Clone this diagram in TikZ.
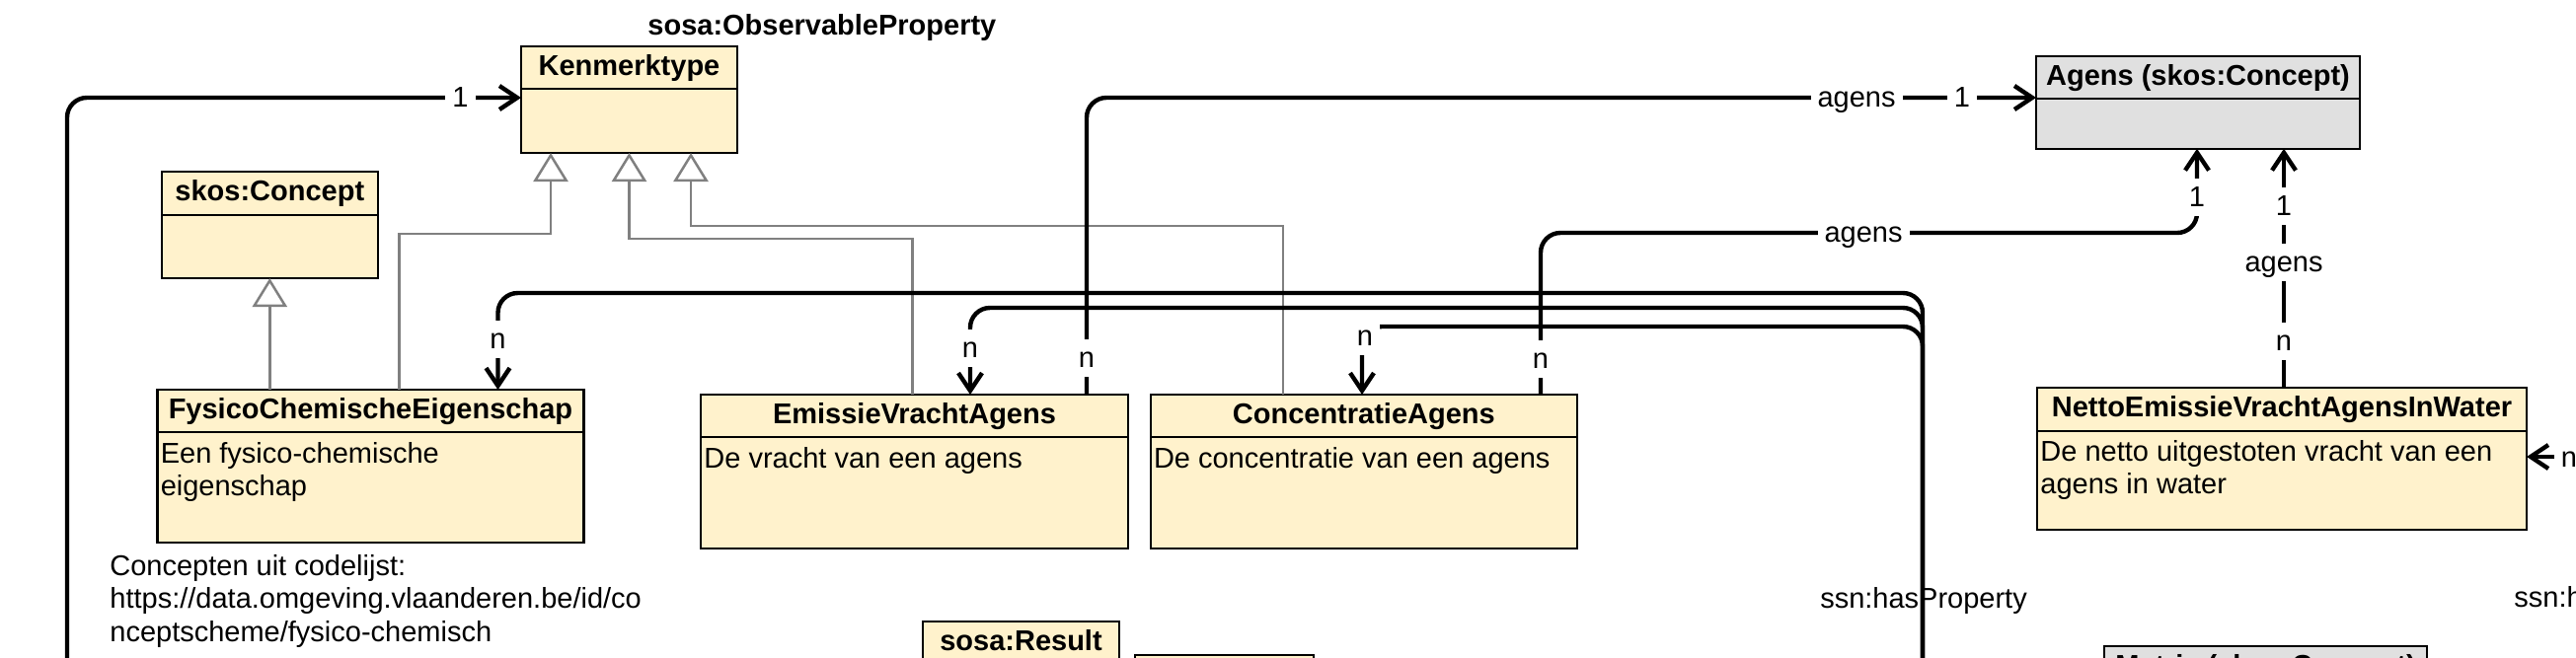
\documentclass[tikz,border=0pt]{standalone}
\usepackage{fontspec}
\setmainfont{Liberation Sans}
\usetikzlibrary{arrows.meta,fit,calc}
\definecolor{umlyellow}{HTML}{FFF2CC}
\definecolor{umlgray}{HTML}{E0E0E0}
\definecolor{genline}{HTML}{808080}

\newcommand{\mkumlbox}[8]{%
 \coordinate (#1-nw) at (#2,#3);
 \coordinate (#1-se) at (#4,#6);
 \node[classfrm, fill=#8, fit=(#1-nw)(#1-se)] (#1) {};
 \draw[frmline] (#2,#5) -- (#4,#5);
 \node[titletxt] (#1-title) at ($(#1.north)+(0,29.5)$) {#7};
}

\begin{document}
\begin{tikzpicture}[x=0.5pt,y=-0.5pt,
  classfrm/.style={draw=black, line width=1.1pt, inner sep=0pt, outer sep=0pt},
  frmline/.style={draw=black, line width=1.1pt},
  titletxt/.style={font=\bfseries\fontsize{14.5}{16.5}\selectfont, anchor=base, inner sep=0pt},
  bodytxt/.style={font=\fontsize{14.5}{16.5}\selectfont, anchor=base west, inner sep=0pt},
  plaintxt/.style={font=\fontsize{14.5}{16.5}\selectfont, inner sep=0pt},
  lbl/.style={font=\fontsize{14.5}{16.5}\selectfont, anchor=base, fill=white, inner xsep=3.5pt, inner ysep=1.5pt, text height=12.3pt, text depth=3.6pt},
  gen/.style={draw=genline, line width=1.25pt, -{Triangle[fill=white, length=14.5pt, width=17.5pt]}},
  assoc/.style={draw=black, line width=2.2pt, rounded corners=10pt, -{Straight Barb[length=9pt, width=12pt]}},
  plainassoc/.style={draw=black, line width=2.2pt, rounded corners=10pt},
]
\useasboundingbox (0,0) rectangle (2610,666);
\fill[white] (0,0) rectangle (2610,666);
\clip (0,0) rectangle (2610,666);

% ---------- classes ----------
\mkumlbox{kt}{528}{47}{747}{90}{155}{Kenmerktype}{umlyellow}
\mkumlbox{skos}{164}{174}{382.6}{218}{282}{skos:Concept}{umlyellow}
\mkumlbox{fce}{159.4}{395}{591.5}{438}{550}{FysicoChemischeEigenschap}{umlyellow}
\mkumlbox{eva}{710}{400}{1143}{443}{556}{EmissieVrachtAgens}{umlyellow}
\mkumlbox{ca}{1165.6}{400}{1598}{443}{556}{ConcentratieAgens}{umlyellow}
\mkumlbox{agens}{2063}{56.7}{2391}{100}{150.7}{Agens (skos:Concept)}{umlgray}
\mkumlbox{neva}{2064}{393}{2560}{437}{537}{NettoEmissieVrachtAgensInWater}{umlyellow}
\mkumlbox{res}{935}{630}{1134}{673}{760}{sosa:Result}{umlyellow}
\mkumlbox{unk}{1150}{664}{1331}{707}{760}{}{umlyellow}
\mkumlbox{mat}{2132}{655}{2459}{698}{760}{Matrix (skos:Concept)}{umlgray}

\node[bodytxt] (fce-b1) at ($(fce.north west)+(3,74)$) {Een fysico-chemische};
\node[bodytxt] (fce-b2) at ($(fce.north west)+(3,107)$) {eigenschap};
\node[bodytxt] (eva-b1) at ($(eva.north west)+(3,74)$) {De vracht van een agens};
\node[bodytxt] (ca-b1) at ($(ca.north west)+(3,74)$) {De concentratie van een agens};
\node[bodytxt] (neva-b1) at ($(neva.north west)+(3,74)$) {De netto uitgestoten vracht van een};
\node[bodytxt] (neva-b2) at ($(neva.north west)+(3,107)$) {agens in water};

% ---------- free texts ----------
\node[titletxt, anchor=base west] (obsprop) at (656,35) {sosa:ObservableProperty};
\node[bodytxt] (note1) at (111,583) {Concepten uit codelijst:};
\node[bodytxt] (note2) at (111,616.5) {https://data.omgeving.vlaanderen.be/id/co};
\node[bodytxt] (note3) at (111,650) {nceptscheme/fysico-chemisch};
\node[plaintxt, anchor=base] (hasprop1) at (1949,616) {ssn:hasProperty};
\node[plaintxt, anchor=base west] (hasprop2) at (2547,615) {ssn:hasProperty};

% ---------- coordinates ----------
\coordinate (g2a) at (404.5,237); \coordinate (g2b) at (558,237);
\coordinate (g3a) at (924.5,242); \coordinate (g3b) at (637.5,242);
\coordinate (g4a) at (1300,229);  \coordinate (g4b) at (700,229);
\coordinate (ktsrc) at (68,760);
\coordinate (bund) at (1948,760);
\coordinate (h1) at (504.5,297);
\coordinate (h2) at (983,312);
\coordinate (h3) at (1380,331);
\coordinate (v1) at (1101,99);
\coordinate (v2) at (1561,236); \coordinate (v3) at (2226,236);
\coordinate (v4) at (2314,0);
\coordinate (rsrc) at (2720,463);

% ---------- generalisations ----------
\draw[gen] (fce.north -| skos.south) -- (skos.south);
\draw[gen] (fce.north -| g2a) -- (g2a) -- (g2b) -- (kt.south -| g2b);
\draw[gen] (eva.north -| g3a) -- (g3a) -- (g3b) -- (kt.south -| g3b);
\draw[gen] (ca.north -| g4a) -- (g4a) -- (g4b) -- (kt.south -| g4b);

% ---------- associations ----------
\draw[assoc] (ktsrc) |- (kt.west |- v1);
\draw[assoc] (bund) |- (h1) -- (fce.north -| h1);
\draw[assoc] (bund) |- (h2) -- (eva.north -| h2);
\draw[assoc] (bund) |- (h3) -- (ca.north -| h3);
\draw[assoc] (eva.north -| v1) |- (agens.west |- v1);
\draw[assoc] (ca.north -| v2) -- (v2) -- (v3) -- (agens.south -| v3);
\draw[assoc] (neva.north -| v4) -- (agens.south -| v4);
\draw[assoc] (rsrc) -- (neva.east |- rsrc);

% ---------- labels ----------
\node[lbl] (l-kt1) at (466.5,108) {1};
\node[lbl] (l-ag1a) at (1881,108) {agens};
\node[lbl] (l-ag1b) at (1988,108) {1};
\node[lbl] (l-ag1n) at (1101,372) {n};
\node[lbl] (l-ag2a) at (1888,245) {agens};
\node[lbl] (l-ag2b) at (2226,209) {1};
\node[lbl] (l-ag2n) at (1561,373) {n};
\node[lbl] (l-ag3n) at (2314,355) {n};
\node[lbl] (l-ag3a) at (2314,275) {agens};
\node[lbl] (l-ag3b) at (2314,218) {1};
\node[lbl] (l-fcen) at (504.5,353) {n};
\node[lbl] (l-evan) at (983,362) {n};
\node[lbl] (l-can) at (1383,350) {n};
\node[lbl] (l-neva) at (2603,473) {n};
\end{tikzpicture}
\end{document}
